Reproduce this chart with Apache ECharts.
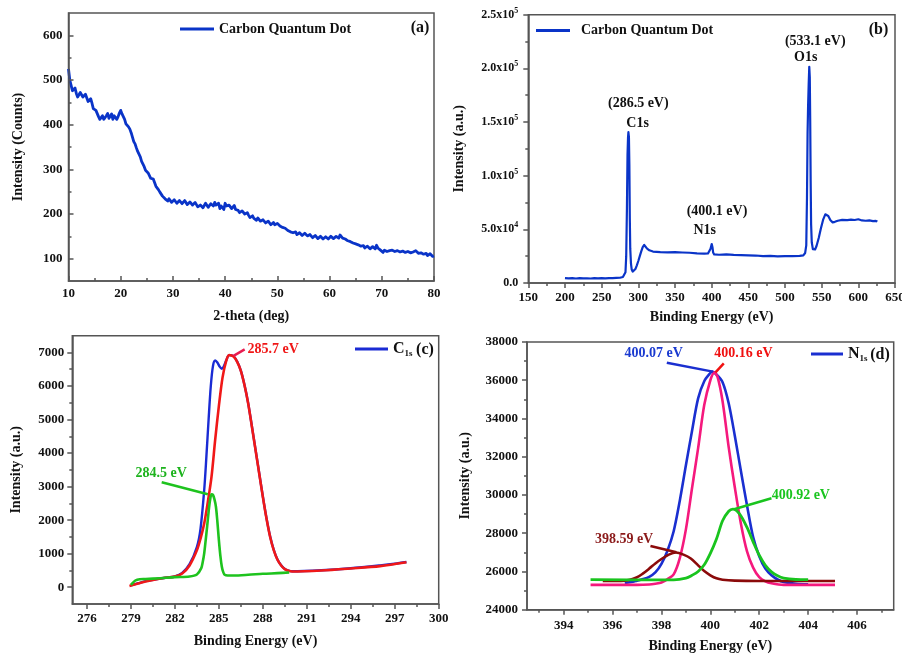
<!DOCTYPE html>
<html>
<head>
<meta charset="utf-8">
<title>Carbon Quantum Dot: XRD and XPS</title>
<script src="https://cdn.jsdelivr.net/npm/echarts@6/dist/echarts.min.js"></script>
<style>
  html, body { margin: 0; padding: 0; background: #ffffff; }
  #chart { width: 902px; height: 656px; }
</style>
</head>
<body>
<div id="chart"></div>
<script>
// ---------- (a) XRD pattern: [2-theta, counts] ----------
const xrdPattern = [
  [10,525],[10.25,500],[10.5,488],[10.75,476],[11,478],[11.25,482],[11.5,470],[11.75,462],[12,466],[12.25,472],
  [12.5,470],[12.75,462],[13,460],[13.25,468],[13.5,466],[13.75,452],[14,455],[14.25,458],[14.5,448],[14.75,436],
  [15,440],[15.25,432],[15.5,428],[15.75,418],[16,412],[16.25,408],[16.5,420],[16.75,412],[17,408],[17.25,420],
  [17.5,425],[17.75,414],[18,418],[18.25,424],[18.5,412],[18.75,420],[19,424],[19.25,412],[19.5,418],[19.75,426],
  [20,432],[20.25,424],[20.5,420],[20.75,412],[21,402],[21.25,404],[21.5,395],[21.75,390],[22,382],[22.25,372],
  [22.5,362],[22.75,357],[23,348],[23.25,340],[23.5,336],[23.75,328],[24,318],[24.25,314],[24.5,306],[24.75,298],
  [25,298],[25.25,292],[25.5,286],[25.75,280],[26,276],[26.25,278],[26.5,270],[26.75,262],[27,259],[27.25,254],
  [27.5,249],[27.75,246],[28,240],[28.25,236],[28.5,234],[28.75,232],[29,229],[29.25,234],[29.5,232],[29.75,226],
  [30,227],[30.25,232],[30.5,231],[30.75,224],[31,226],[31.25,230],[31.5,229],[31.75,223],[32,224],[32.25,230],
  [32.5,228],[32.75,221],[33,222],[33.25,227],[33.5,226],[33.75,220],[34,219],[34.25,226],[34.5,224],[34.75,216],
  [35,214],[35.25,220],[35.5,222],[35.75,214],[36,218],[36.25,224],[36.5,222],[36.75,215],[37,217],[37.25,223],
  [37.5,221],[37.75,218],[38,226],[38.25,220],[38.5,218],[38.75,224],[39,212],[39.25,218],[39.5,216],[39.75,210],
  [40,224],[40.25,218],[40.5,214],[40.75,220],[41,218],[41.25,212],[41.5,216],[41.75,219],[42,210],[42.25,214],
  [42.5,208],[42.75,203],[43,202],[43.25,207],[43.5,205],[43.75,200],[44,199],[44.25,203],[44.5,197],[44.75,192],
  [45,193],[45.25,196],[45.5,190],[45.75,186],[46,186],[46.25,191],[46.5,189],[46.75,184],[47,183],[47.25,187],
  [47.5,185],[47.75,180],[48,180],[48.25,184],[48.5,183],[48.75,176],[49,178],[49.25,181],[49.5,176],[49.75,180],
  [50,179],[50.25,175],[50.5,173],[50.75,176],[51,170],[51.25,166],[51.5,168],[51.75,165],[52,163],[52.25,162],
  [52.5,160],[52.75,156],[53,158],[53.25,162],[53.5,160],[53.75,154],[54,155],[54.25,158],[54.5,157],[54.75,152],
  [55,153],[55.25,157],[55.5,155],[55.75,151],[56,150],[56.25,154],[56.5,152],[56.75,147],[57,148],[57.25,152],
  [57.5,150],[57.75,145],[58,146],[58.25,150],[58.5,149],[58.75,144],[59,145],[59.25,149],[59.5,148],[59.75,144],
  [60,146],[60.25,150],[60.5,149],[60.75,145],[61,147],[61.25,150],[61.5,148],[61.75,146],[62,153],[62.25,149],
  [62.5,146],[62.75,142],[63,144],[63.25,146],[63.5,140],[63.75,136],[64,138],[64.25,139],[64.5,135],[64.75,131],
  [65,133],[65.25,135],[65.5,131],[65.75,127],[66,128],[66.25,131],[66.5,129],[66.75,124],[67,125],[67.25,128],
  [67.5,127],[67.75,122],[68,124],[68.25,127],[68.5,126],[68.75,122],[69,130],[69.25,124],[69.5,121],[69.75,119],
  [70,117],[70.25,114],[70.5,119],[70.75,116],[71,116],[71.25,120],[71.5,118],[71.75,115],[72,119],[72.25,117],
  [72.5,116],[72.75,120],[73,118],[73.25,114],[73.5,115],[73.75,118],[74,117],[74.25,113],[74.5,114],[74.75,117],
  [75,116],[75.25,112],[75.5,113],[75.75,117],[76,115],[76.25,112],[76.5,118],[76.75,114],[77,112],[77.25,116],
  [77.5,113],[77.75,109],[78,110],[78.25,113],[78.5,112],[78.75,107],[79,108],[79.25,111],[79.5,109],[79.75,105],
  [80,106]
];
const aXTicks = [10, 20, 30, 40, 50, 60, 70, 80];
const aXMinor = [15, 25, 35, 45, 55, 65, 75];
const aYTicks = [100, 200, 300, 400, 500, 600];
const aYMinor = [150, 250, 350, 450, 550];

// ---------- (b) XPS survey: [binding energy, intensity] ----------
const surveySpectrum = [
  [200,4600],[205,4300],[210,4500],[215,4200],[220,4500],[225,4300],[230,4400],[235,4200],[240,4500],
  [245,4300],[250,4500],[255,4400],[260,4600],[265,4500],[270,4700],[275,4900],[279,5600],[281,6800],
  [282.5,10000],[283.5,25000],[284.5,70000],[285.3,120000],[286,136000],[286.5,140500],[287.2,136000],
  [287.8,110000],[288.4,60000],[289,32000],[290,18000],[291,12500],[292.3,10600],[294,11200],[296,13000],
  [298,16500],[300,20500],[302,25000],[304,29500],[306,33500],[308,35400],[310,34000],[312,32000],
  [315,30500],[320,29300],[330,28800],[340,28500],[350,28700],[360,28400],[370,28200],[380,27600],
  [390,27300],[395,27500],[397,29000],[398.5,32000],[400.1,36300],[401.2,33000],[402,28500],[403.5,26600],
  [410,26300],[420,26600],[430,26200],[440,26000],[450,25800],[460,25600],[470,25100],[480,25200],
  [490,24900],[500,25000],[510,25100],[520,25200],[525,25800],[527.5,28000],[529,35000],[530,80000],
  [530.8,140000],[531.5,165000],[532.3,185000],[533.1,201500],[533.8,192000],[534.4,150000],[535,95000],
  [535.6,55000],[536.5,38000],[538,31500],[539.5,30000],[541,31200],[543,34500],[546,42000],[549,51000],
  [552,59000],[555,64000],[557,64800],[559,62500],[562,58500],[565,56500],[568,57000],[572,58000],
  [578,58800],[585,58600],[590,59000],[595,58700],[600,59400],[605,58300],[610,58000],[615,58300],
  [620,57700],[622,59200],[624,57800],[626,57200]
];
const bXTicks = [150, 200, 250, 300, 350, 400, 450, 500, 550, 600, 650];
const bXMinor = [175, 225, 275, 325, 375, 425, 475, 525, 575, 625];
const bYTicks = [0, 50000, 100000, 150000, 200000, 250000];
const bYLabels = ['0.0', '5.0x10^4', '1.0x10^5', '1.5x10^5', '2.0x10^5', '2.5x10^5'];
const bYMinor = [25000, 75000, 125000, 175000, 225000];
const surveyNotes = [
  { text: '(286.5 eV)', at: [300, 167400] },
  { text: 'C1s', at: [299, 148800] },
  { text: '(400.1 eV)', at: [407.3, 66400] },
  { text: 'N1s', at: [390.5, 48700] },
  { text: '(533.1 eV)', at: [541.3, 224800] },
  { text: 'O1s', at: [528.2, 210300] }
];

// ---------- (c) C1s high-resolution spectrum and fitted components ----------
const c1sMeasured = [
  [279.0,60],[279.5,120],[280,180],[281,260],[281.5,290],[282,320],[282.5,430],[283,690],[283.5,1200],
  [283.75,1750],[284.0,2900],[284.15,3900],[284.3,5000],[284.45,6000],[284.6,6600],[284.75,6760],
  [284.9,6700],[285.05,6580],[285.2,6510],[285.35,6600],[285.5,6760],[285.7,6920],[286.0,6890],
  [286.25,6730],[286.5,6460],[286.75,6030],[287.0,5490],[287.25,4810],[287.5,4110],[287.75,3410],
  [288.0,2710],[288.25,2060],[288.5,1510],[288.75,1110],[289.0,825],[289.25,655],[289.5,545],
  [289.75,495],[290.0,475],[292.0,505],[294.0,565],[296.0,650],[297.0,700],[297.8,752]
];
const c1sPeak2857 = [
  [278.9,40],[279.5,110],[280,170],[281,260],[281.5,290],[282,320],[282.5,410],[283,650],[283.5,1100],
  [283.75,1450],[284,1900],[284.25,2550],[284.5,3300],[284.75,4400],[285,5400],[285.25,6250],
  [285.5,6750],[285.7,6920],[286,6880],[286.25,6720],[286.5,6450],[286.75,6020],[287,5480],
  [287.25,4800],[287.5,4100],[287.75,3400],[288,2700],[288.25,2050],[288.5,1500],[288.75,1100],
  [289,820],[289.25,650],[289.5,540],[289.75,490],[290,470],[292,500],[294,560],[296,630],[297.8,745]
];
const c1sPeak2845 = [
  [279.0,70],[279.3,200],[279.6,240],[280,245],[281,270],[282,300],[283,320],[283.5,380],[283.8,570],
  [283.9,750],[284.0,1010],[284.1,1400],[284.2,1810],[284.3,2250],[284.4,2600],[284.5,2770],
  [284.6,2750],[284.7,2620],[284.8,2400],[284.9,1950],[285.0,1410],[285.1,950],[285.2,620],
  [285.3,450],[285.4,370],[285.6,350],[286,350],[287,370],[288,400],[289,420],[289.8,440]
];
const cXTicks = [276, 279, 282, 285, 288, 291, 294, 297, 300];
const cXMinor = [277.5, 280.5, 283.5, 286.5, 289.5, 292.5, 295.5, 298.5];
const cYTicks = [0, 1000, 2000, 3000, 4000, 5000, 6000, 7000];
const cYMinor = [500, 1500, 2500, 3500, 4500, 5500, 6500];
const cLegend = ['C', '1s'];

// ---------- (d) N1s high-resolution spectrum and fitted components ----------
const n1sMeasured = [
  [396.5,25400],[396.83,25464],[397,25520],[397.25,25600],[397.5,25720],[397.75,25950],[398,26400],
  [398.25,27100],[398.5,28100],[398.75,29700],[399,31550],[399.25,33350],[399.5,35050],[399.75,35950],
  [400,36380],[400.07,36450],[400.25,36300],[400.5,35900],[400.75,34800],[401,33100],[401.25,31250],
  [401.5,29450],[401.75,27800],[402,26800],[402.25,26150],[402.5,25800],[402.75,25580],[403,25450],
  [403.5,25360],[404,25330]
];
const n1sPeak40016 = [
  [395.1,25300],[397,25300],[397.5,25320],[397.75,25360],[398,25420],[398.25,25600],[398.5,25850],
  [398.75,26700],[399,28200],[399.25,30350],[399.5,32450],[399.75,34700],[400,36000],[400.16,36400],
  [400.3,36150],[400.5,34900],[400.75,32500],[401,30400],[401.25,28500],[401.5,27050],[401.75,26200],
  [402,25700],[402.25,25480],[402.5,25380],[403,25300],[405.1,25300]
];
const n1sPeak39859 = [
  [395.6,25500],[396.5,25520],[397,25700],[397.25,25900],[397.5,26150],[397.75,26420],[398,26650],
  [398.3,26880],[398.59,26990],[398.9,26880],[399.2,26680],[399.5,26320],[399.75,26020],[400,25800],
  [400.25,25640],[400.5,25570],[401,25520],[402,25500],[405.1,25500]
];
const n1sPeak40092 = [
  [395.1,25570],[398,25560],[398.5,25560],[399,25650],[399.25,25800],[399.5,26000],[399.75,26350],
  [400,26950],[400.25,27700],[400.5,28650],[400.75,29150],[400.92,29260],[401.2,29000],[401.5,28300],
  [401.75,27550],[402,26850],[402.25,26320],[402.5,25980],[402.75,25770],[403,25650],[403.5,25580],[404,25570]
];
const dXTicks = [394, 396, 398, 400, 402, 404, 406];
const dXMinor = [393, 395, 397, 399, 401, 403, 405, 407];
const dYTicks = [24000, 26000, 28000, 30000, 32000, 34000, 36000, 38000];
const dYMinor = [25000, 27000, 29000, 31000, 33000, 35000, 37000];
const dLegend = ['N', '1s'];

// ---------- styling ----------
const FONT = "'Liberation Serif', 'Times New Roman', serif";
const AXIS = '#555555';
const INK = '#111111';
const BLUE = '#0a34c8';
const C_BLUE = '#1a2bd4', C_RED = '#f01818', C_GREEN = '#1ec31e', C_PINK = '#e81c50';
const D_BLUE = '#1a2fd0', D_PINK = '#f5197d', D_GREEN = '#19c41e', D_BROWN = '#8b0a0a', D_RED = '#f01010';

const grids = [
  { left: 68.5, top: 13, width: 365.5, height: 268 },
  { left: 528.3, top: 14.7, width: 366.7, height: 268.3 },
  { left: 72.3, top: 335.7, width: 366.4, height: 268.3 },
  { left: 527, top: 342, width: 366.7, height: 267.7 }
].map(g => Object.assign(g, {
  show: true, borderColor: AXIS, borderWidth: 1.5, backgroundColor: 'transparent',
  containLabel: false, outerBoundsMode: 'none'
}));

const xAxes = [], yAxes = [];

// Main axis (line, labelled major ticks, title) plus a bare axis that only draws minor ticks.
function addAxis(list, dim, p) {
  const idx = list.length;
  const tickStyle = { color: AXIS, width: 1.5 };
  list.push({
    type: 'value', gridIndex: p.grid, min: p.min, max: p.max,
    position: dim === 'x' ? 'bottom' : 'left',
    splitLine: { show: false },
    axisLine: { show: true, onZero: false, lineStyle: { color: AXIS, width: 1.5 } },
    axisTick: { show: true, inside: p.inside, length: 5, customValues: p.major, lineStyle: tickStyle },
    axisLabel: {
      show: true, customValues: p.major, margin: p.margin,
      fontFamily: FONT, fontWeight: 'bold', fontSize: 13, color: INK,
      formatter: p.formatter || (v => String(v)), rich: p.rich
    },
    name: p.name, nameLocation: 'middle', nameGap: p.nameGap, nameMoveOverlap: false,
    nameTextStyle: { fontFamily: FONT, fontWeight: 'bold', fontSize: 14, color: INK },
    z: 5
  });
  list.push({
    type: 'value', gridIndex: p.grid, min: p.min, max: p.max,
    position: dim === 'x' ? 'bottom' : 'left',
    splitLine: { show: false }, axisLine: { show: false, onZero: false }, axisLabel: { show: false },
    axisTick: { show: true, inside: p.inside, length: 3, customValues: p.minor, lineStyle: tickStyle },
    z: 5
  });
  return idx;
}

const ax = addAxis(xAxes, 'x', { grid: 0, min: 10, max: 80, major: aXTicks, minor: aXMinor, inside: true, margin: 6, name: '2-theta (deg)', nameGap: 28 });
const ay = addAxis(yAxes, 'y', { grid: 0, min: 50, max: 650, major: aYTicks, minor: aYMinor, inside: true, margin: 6, name: 'Intensity (Counts)', nameGap: 43 });

const bx = addAxis(xAxes, 'x', { grid: 1, min: 150, max: 650, major: bXTicks, minor: bXMinor, inside: false, margin: 8, name: 'Binding Energy (eV)', nameGap: 27 });
const by = addAxis(yAxes, 'y', {
  grid: 1, min: 0, max: 250000, major: bYTicks, minor: bYMinor, inside: false, margin: 10,
  name: 'Intensity (a.u.)', nameGap: 62,
  formatter: v => {
    const s = bYLabels[bYTicks.indexOf(v)] || '';
    const parts = s.split('^');
    return parts.length > 1 ? '{m|' + parts[0] + '}{e|' + parts[1] + '}' : '{m|' + s + '}';
  },
  rich: {
    m: { fontFamily: FONT, fontWeight: 'bold', fontSize: 12, color: INK },
    e: { fontFamily: FONT, fontWeight: 'bold', fontSize: 8, color: INK, padding: [0, 0, 8, 0] }
  }
});

const cx = addAxis(xAxes, 'x', { grid: 2, min: 275, max: 300, major: cXTicks, minor: cXMinor, inside: false, margin: 8, name: 'Binding Energy (eV)', nameGap: 30 });
const cy = addAxis(yAxes, 'y', { grid: 2, min: -500, max: 7500, major: cYTicks, minor: cYMinor, inside: false, margin: 8, name: 'Intensity (a.u.)', nameGap: 49 });

const dx = addAxis(xAxes, 'x', { grid: 3, min: 392.5, max: 407.5, major: dXTicks, minor: dXMinor, inside: false, margin: 9, name: 'Binding Energy (eV)', nameGap: 30 });
const dy = addAxis(yAxes, 'y', { grid: 3, min: 24000, max: 38000, major: dYTicks, minor: dYMinor, inside: false, margin: 9, name: 'Intensity (a.u.)', nameGap: 55 });

// Text callouts placed in data coordinates
function notes(list, color) {
  return {
    symbol: 'circle', symbolSize: 0, silent: true, animation: false,
    label: { show: true, position: 'inside', formatter: '{b}', fontFamily: FONT, fontWeight: 'bold', fontSize: 14, color: color },
    data: list.map(n => ({ name: n.text, coord: n.at }))
  };
}
function pointer(from, to, color) {
  return {
    symbol: ['none', 'none'], silent: true, animation: false,
    label: { show: false },
    lineStyle: { type: 'solid', width: 2.5, color: color },
    data: [[{ coord: from }, { coord: to }]]
  };
}

function line(name, data, xi, yi, color, width, extra) {
  return Object.assign({
    type: 'line', name: name, data: data, xAxisIndex: xi, yAxisIndex: yi,
    showSymbol: false, symbol: 'none',
    lineStyle: { color: color, width: width, join: 'round' }, itemStyle: { color: color }
  }, extra || {});
}
const smoothFit = { smooth: 0.3 };

const series = [
  line('Carbon Quantum Dot', xrdPattern, ax, ay, BLUE, 2.8),
  line('Carbon Quantum Dot', surveySpectrum, bx, by, BLUE, 2.2, {
    markPoint: notes(surveyNotes, INK)
  }),

  line('C1s', c1sMeasured, cx, cy, C_BLUE, 2.4, smoothFit),
  line('285.7 eV', c1sPeak2857, cx, cy, C_RED, 2.6, Object.assign({
    markLine: pointer([286.0, 6900], [286.76, 7090], C_PINK),
    markPoint: notes([{ text: '285.7 eV', at: [288.7, 7099] }], C_RED)
  }, smoothFit)),
  line('284.5 eV', c1sPeak2845, cx, cy, C_GREEN, 2.6, Object.assign({
    markLine: pointer([281.1, 3128], [284.25, 2770], C_GREEN),
    markPoint: notes([{ text: '284.5 eV', at: [281.06, 3405] }], '#1db31d')
  }, smoothFit)),

  line('N1s', n1sMeasured, dx, dy, D_BLUE, 2.6, Object.assign({
    markLine: pointer([398.22, 36917], [400.1, 36450], D_BLUE),
    markPoint: notes([{ text: '400.07 eV', at: [397.68, 37425] }], '#1a3ad0')
  }, smoothFit)),
  line('400.16 eV', n1sPeak40016, dx, dy, D_PINK, 2.6, Object.assign({
    markLine: pointer([400.21, 36415], [400.55, 36886], D_RED),
    markPoint: notes([{ text: '400.16 eV', at: [401.35, 37425] }], D_RED)
  }, smoothFit)),
  line('398.59 eV', n1sPeak39859, dx, dy, D_BROWN, 2.6, Object.assign({
    markLine: pointer([397.55, 27331], [398.61, 27001], D_BROWN),
    markPoint: notes([{ text: '398.59 eV', at: [396.47, 27697] }], '#8b1a1a')
  }, smoothFit)),
  line('400.92 eV', n1sPeak40092, dx, dy, D_GREEN, 2.8, Object.assign({
    markLine: pointer([400.97, 29250], [402.5, 29825], D_GREEN),
    markPoint: notes([{ text: '400.92 eV', at: [403.7, 29998] }], D_GREEN)
  }, smoothFit))
];

const legendText = { fontFamily: FONT, fontWeight: 'bold', fontSize: 14, color: INK };
const subRich = {
  m: { fontFamily: FONT, fontWeight: 'bold', fontSize: 16, color: INK },
  s: { fontFamily: FONT, fontWeight: 'bold', fontSize: 9, color: INK, padding: [9, 0, 0, 0] }
};
function legendAt(name, left, top, extra) {
  return Object.assign({
    data: [name], left: left, top: top, padding: 0, icon: 'rect',
    itemWidth: 34, itemHeight: 3, selectedMode: false,
    textStyle: Object.assign({}, legendText)
  }, extra || {});
}
const legends = [
  legendAt('Carbon Quantum Dot', 180, 22),
  legendAt('Carbon Quantum Dot', 536, 23.5, { textStyle: Object.assign({}, legendText, { padding: [0, 0, 0, 6] }) }),
  legendAt('C1s', 355, 341, {
    itemWidth: 33, formatter: () => '{m|' + cLegend[0] + '}{s|' + cLegend[1] + '}',
    textStyle: Object.assign({}, legendText, { rich: subRich })
  }),
  legendAt('N1s', 811, 346, {
    itemWidth: 32, formatter: () => '{m|' + dLegend[0] + '}{s|' + dLegend[1] + '}',
    textStyle: Object.assign({}, legendText, { rich: subRich })
  })
];

const panelTag = (text, x, y) => ({
  type: 'text', x: x, y: y, silent: true,
  style: { text: text, font: 'bold 16px ' + FONT, fill: INK, align: 'center', verticalAlign: 'middle' }
});

const chart = echarts.init(document.getElementById('chart'), null, { renderer: 'canvas' });
chart.setOption({
  animation: false,
  backgroundColor: '#ffffff',
  grid: grids,
  xAxis: xAxes,
  yAxis: yAxes,
  legend: legends,
  series: series,
  graphic: [
    panelTag('(a)', 420, 28),
    panelTag('(b)', 878.5, 29.5),
    panelTag('(c)', 425, 350),
    panelTag('(d)', 880, 355)
  ]
});
</script>
</body>
</html>
